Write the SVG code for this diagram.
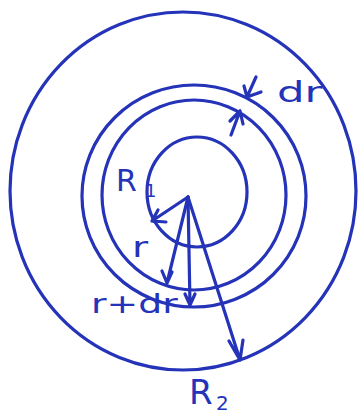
<svg xmlns="http://www.w3.org/2000/svg" width="361" height="416" viewBox="0 0 361 416">
<style>
.s{fill:none;stroke:#2433b8;stroke-width:3.2;stroke-linecap:round;stroke-linejoin:round}
.t{fill:#2433b8;font-family:"DejaVu Sans","Liberation Sans",sans-serif}
</style>
<rect width="361" height="416" fill="#ffffff"/>
<g id="outer-circle"><ellipse class="s" cx="183" cy="191" rx="173" ry="179"/></g>
<g id="ring-outer"><ellipse class="s" cx="194" cy="196" rx="112" ry="111"/></g>
<g id="ring-inner"><ellipse class="s" cx="194" cy="195" rx="92" ry="95"/></g>
<g id="inner-circle"><ellipse class="s" cx="197" cy="192" rx="50" ry="55"/></g>
<g id="connectors">
<path class="s" d="M188 197 L152 221 M152 221 L158 210 M152 221 L166 222"/>
<path class="s" d="M188 197 L167 283 M167 283 L162 271 M167 283 L172 272"/>
<path class="s" d="M188 197 L190 305 M190 305 L185 294 M190 305 L195 294"/>
<path class="s" d="M188 197 L240 360 M240 360 L229 341 M240 360 L243 340"/>
<path class="s" d="M256 77 L247 97 M247 97 L244 86 M247 97 L261 92"/>
<path class="s" d="M231 135 L240 111 M240 111 L230 121 M240 111 L243 124"/>
</g>
<g id="labels">
<text class="t" x="116" y="191" font-size="30">R</text>
<text class="t" x="145" y="197" font-size="18">1</text>
<text class="t" transform="translate(132,257) scale(1.4,1)" font-size="28">r</text>
<text class="t" transform="translate(91,313) scale(1.4,1)" font-size="27">r+dr</text>
<text class="t" transform="translate(277,102) scale(1.5,1)" font-size="29">dr</text>
<text class="t" x="189" y="404" font-size="34">R</text>
<text class="t" x="216" y="410" font-size="20">2</text>
</g>
</svg>
